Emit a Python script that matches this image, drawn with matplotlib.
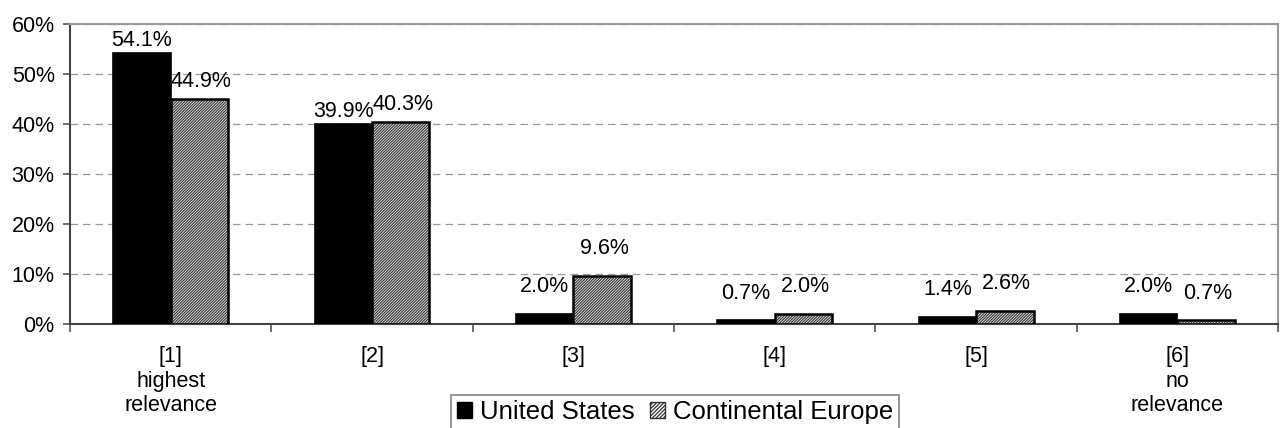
import matplotlib
matplotlib.use("Agg")
import matplotlib.pyplot as plt
import numpy as np
from matplotlib.patches import Patch

categories = ["[1]\nhighest\nrelevance", "[2]", "[3]", "[4]", "[5]", "[6]\nno\nrelevance"]
us = [54.1, 39.9, 2.0, 0.7, 1.4, 2.0]
europe = [44.9, 40.3, 9.6, 2.0, 2.6, 0.7]
series_names = ["United States", "Continental Europe"]
yticks = [0, 10, 20, 30, 40, 50, 60]

plt.rcParams['font.family'] = ['Liberation Sans', 'DejaVu Sans']
plt.rcParams['hatch.linewidth'] = 0.9

fig = plt.figure(figsize=(12.82, 4.28), dpi=100)
ax = fig.add_axes([0.0546, 0.243, 0.9424, 0.701])

x = np.arange(len(categories))
w = 0.285
HATCH = "/" * 12
ax.bar(x - w/2, us, w, color="black", edgecolor="black", linewidth=1.2, zorder=3)
ax.bar(x + w/2, europe, w, color="white", edgecolor="#3a3a3a", hatch=HATCH, linewidth=0, zorder=3)
ax.bar(x + w/2, europe, w, color="none", edgecolor="black", linewidth=1.8, zorder=4)

def label_offset(v, big):
    return big if v > 15 else 3.3

for xi, v in zip(x, us):
    ax.text(xi - w/2, v + label_offset(v, 0.4), f"{v:.1f}%", ha="center", va="bottom", fontsize=15.5)
for xi, v in zip(x, europe):
    ax.text(xi + w/2 + 0.01, v + label_offset(v, 1.5), f"{v:.1f}%", ha="center", va="bottom", fontsize=15.5)

ax.set_xlim(-0.5, len(categories) - 0.5)
ax.set_ylim(0, 60)
ax.set_yticks(yticks)
ax.set_yticklabels([f"{t}%" for t in yticks], fontsize=15.5)
ax.set_xticks(np.arange(len(categories) + 1) - 0.5, minor=False)
ax.set_xticklabels([])
ax.set_xticks(x, minor=True)
ax.set_xticklabels(categories, minor=True, fontsize=15.5)
ax.tick_params(axis="x", which="minor", length=0, pad=16)
ax.tick_params(axis="x", which="major", length=6, direction="out", width=1.2, color="#555555")
ax.tick_params(axis="y", length=5, direction="out", width=1.2, color="#555555", pad=6)
for lbl in ax.get_xticklabels(minor=True):
    lbl.set_linespacing(1.22)

ax.yaxis.grid(True, linestyle=(0, (6, 4)), color="#999999", linewidth=0.9, zorder=0)
ax.set_axisbelow(True)
for s in ["left", "bottom"]:
    ax.spines[s].set_color("#444444")
    ax.spines[s].set_linewidth(1.5)
for s in ["top", "right"]:
    ax.spines[s].set_color("#999999")
    ax.spines[s].set_linewidth(1.5)

handles = [Patch(facecolor="black", edgecolor="black"),
           Patch(facecolor="white", edgecolor="#333333", hatch="/" * 9)]
leg = fig.legend(handles, series_names, loc="upper center", bbox_to_anchor=(0.5265, 0.078),
                 ncol=2, fontsize=18.5, frameon=True, fancybox=False, edgecolor="#666666",
                 handlelength=0.6, handleheight=0.6, handletextpad=0.3, columnspacing=0.6,
                 borderpad=0.22, borderaxespad=0)
leg.get_frame().set_linewidth(1.2)

fig.savefig("out.png", dpi=100)
